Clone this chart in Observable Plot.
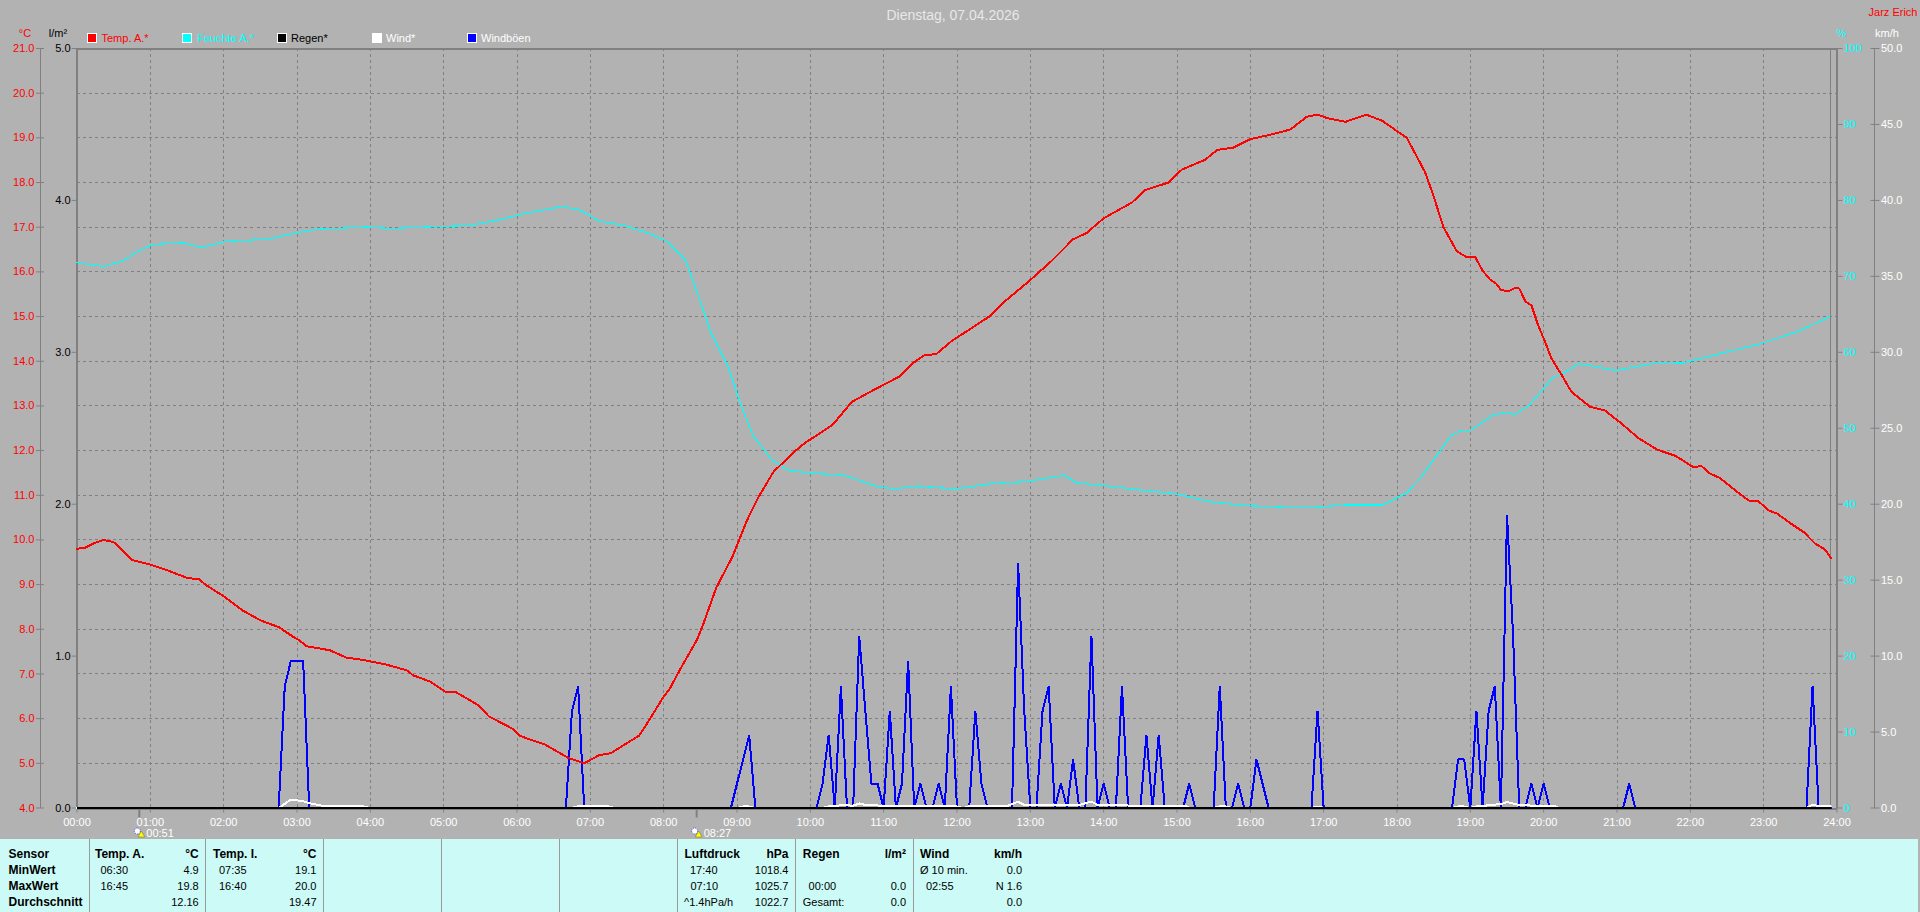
<!DOCTYPE html>
<html>
<head>
<meta charset="utf-8">
<title>Dienstag, 07.04.2026</title>
<script src="https://cdn.jsdelivr.net/npm/d3@7"></script>
<script src="https://cdn.jsdelivr.net/npm/@observablehq/plot@0.6"></script>
<style>
html,body{margin:0;padding:0;width:1920px;height:912px;overflow:hidden;background:#b2b2b2;font-family:"Liberation Sans",Arial,sans-serif;}
#chart{position:absolute;left:0;top:0;}
#chart svg{display:block;}
.o{position:absolute;white-space:nowrap;font-size:11px;line-height:12px;transform:translateY(-50%);}
.sw{position:absolute;width:8px;height:8px;border:1px solid #fff;top:33px;}
#panel{position:absolute;left:0;top:839px;width:1918px;height:73px;background:#ccfbf7;color:#000;font-size:11px;}
#panel .sep{position:absolute;top:0;height:73px;width:1px;background:#9a9a9a;}
#panel .c{position:absolute;white-space:nowrap;line-height:14px;transform:translateY(-50%);}
#panel .r{transform:translate(-100%,-50%);}
#panel .b{font-weight:700;font-size:12px;}
</style>
</head>
<body>
<div id="chart"></div>
<div id="overlay"></div>
<div id="panel"></div>
<script>
// ---------- chart values ----------
const tempTimes = ["00:00","00:07","00:15","00:22","00:30","00:35","00:45","01:00","01:15","01:30","01:40","01:45","02:00","02:15","02:30","02:45","02:57","03:02","03:08","03:27","03:40","03:57","04:13","04:30","04:35","04:49","05:02","05:10","05:19","05:29","05:37","05:56","06:02","06:13","06:23","06:30","06:42","06:55","07:07","07:17","07:28","07:40","07:48","07:59","08:05","08:13","08:27","08:33","08:43","08:56","09:08","09:18","09:30","09:48","09:55","10:18","10:34","10:50","11:13","11:23","11:33","11:43","11:56","12:13","12:28","12:40","12:58","13:18","13:35","13:46","14:00","14:23","14:34","14:53","15:04","15:23","15:33","15:46","16:00","16:18","16:33","16:46","16:55","17:03","17:18","17:35","17:48","18:08","18:23","18:30","18:38","18:49","18:57","19:04","19:10","19:16","19:21","19:25","19:31","19:36","19:40","19:45","19:50","19:55","20:03","20:06","20:15","20:20","20:23","20:38","20:50","21:03","21:18","21:33","21:48","22:03","22:09","22:15","22:24","22:39","22:48","22:56","23:04","23:11","23:21","23:33","23:42","23:50","23:55"];
const tempValues = [9.8,9.83,9.94,10,9.95,9.83,9.55,9.45,9.31,9.15,9.12,9,8.74,8.43,8.2,8.05,7.83,7.75,7.62,7.53,7.37,7.3,7.21,7.08,6.97,6.83,6.59,6.59,6.45,6.29,6.05,5.78,5.62,5.51,5.42,5.31,5.12,5,5.18,5.23,5.42,5.62,5.96,6.45,6.67,7.08,7.75,8.16,8.93,9.61,10.43,10.98,11.53,12,12.16,12.57,13.09,13.33,13.66,13.94,14.13,14.16,14.46,14.76,15.03,15.36,15.77,16.26,16.73,16.87,17.2,17.55,17.83,18,18.29,18.51,18.73,18.78,18.97,19.08,19.19,19.47,19.52,19.44,19.36,19.52,19.38,19,18.23,17.69,17,16.46,16.33,16.33,16.03,15.83,15.74,15.6,15.56,15.63,15.63,15.34,15.25,14.84,14.31,14.08,13.68,13.44,13.31,12.98,12.9,12.62,12.27,12.02,11.88,11.62,11.66,11.5,11.39,11.06,10.88,10.86,10.66,10.59,10.39,10.17,9.92,9.79,9.6];

const humidityTimes = ["00:00","00:22","00:37","00:50","01:02","01:27","01:42","02:02","02:37","03:02","03:17","03:57","04:17","04:47","05:22","05:47","06:07","06:37","06:52","07:07","07:27","07:47","08:03","08:18","08:28","08:38","08:53","09:03","09:13","09:28","09:43","10:08","10:28","10:53","11:08","11:28","11:58","12:28","12:58","13:28","13:38","13:58","14:28","14:58","15:28","15:58","16:28","16:53","17:18","17:48","18:08","18:18","18:36","18:44","18:52","19:00","19:10","19:18","19:30","19:36","19:48","19:59","20:06","20:19","20:29","20:59","21:29","21:54","22:19","22:59","23:29","23:54"];
const humidityValues = [71.8,71.3,72,73.3,74.2,74.4,73.8,74.6,74.9,75.8,76.2,76.5,76.3,76.5,76.7,77.5,78.3,79.2,78.7,77.3,76.7,75.7,74.6,72.1,67.6,62.8,58,53.1,49.1,45.9,44.4,44,43.8,42.4,42,42.4,42,42.7,43,43.8,42.8,42.5,41.9,41.4,40.3,39.8,39.6,39.6,39.9,39.9,41.5,43.2,47.2,49,49.7,49.7,50.8,51.7,52.1,51.8,53,55,56.5,57.5,58.5,57.6,58.5,58.6,59.6,61.2,62.8,64.7];

const rainTimes = ["00:00","23:55"];
const rainValues = [0,0];

const windTimes = ["00:00","02:45","02:55","03:00","03:05","03:10","03:20","03:55","04:00","06:45","06:50","07:15","07:20","09:00","09:05","09:10","09:15","10:10","10:15","10:20","10:25","10:35","10:40","10:45","11:00","12:00","12:05","12:10","12:20","12:25","12:40","12:50","12:55","13:40","13:50","13:55","14:30","15:00","15:08","15:10","15:30","15:35","15:40","15:45","16:50","16:55","17:00","18:45","18:50","18:55","19:00","19:05","19:10","19:15","19:25","19:30","19:35","19:40","20:05","20:10","20:12","23:35","23:40","23:45","23:55"];
const windValues = [0,0,.55,.5,.45,.32,.16,.1,0,0,.12,.1,0,0,.1,.1,0,0,.1,.1,.2,.15,.3,.2,.15,.1,0,.12,.12,.1,.1,.42,.2,.2,.42,.2,.15,.1,.1,0,0,.12,.1,0,0,.1,0,0,.1,.1,0,.1,.1,.2,.25,.4,.3,.2,.1,.1,0,0,.22,.12,.1];

const gustTimes = ["00:00","02:45","02:50","02:55","03:00","03:05","03:10","06:40","06:45","06:50","06:55","08:55","09:00","09:05","09:10","09:15","10:05","10:10","10:15","10:20","10:25","10:30","10:35","10:40","10:45","10:50","10:55","11:00","11:05","11:10","11:15","11:20","11:25","11:30","11:35","11:40","11:45","11:50","11:55","12:00","12:10","12:15","12:20","12:25","12:45","12:50","12:55","13:00","13:05","13:10","13:15","13:20","13:25","13:30","13:35","13:40","13:45","13:50","13:55","14:00","14:05","14:10","14:15","14:20","14:30","14:35","14:40","14:45","14:50","15:05","15:10","15:15","15:30","15:35","15:40","15:45","15:50","15:55","16:00","16:05","16:10","16:15","16:50","16:55","17:00","18:45","18:50","18:55","19:00","19:05","19:10","19:15","19:20","19:25","19:30","19:35","19:40","19:45","19:50","19:55","20:00","20:05","21:05","21:10","21:15","23:35","23:40","23:45","23:55"];
const gustValues = [0,0,8,9.7,9.7,9.7,0,0,6.4,8,0,0,1.6,3.2,4.8,0,0,1.6,4.8,0,8,0,0,11.3,6.4,1.6,1.6,0,6.4,0,1.6,9.7,0,1.6,0,0,1.6,0,8,0,0,6.4,1.6,0,0,16.1,6.4,0,0,6.4,8,0,1.6,0,3.2,0,0,11.3,0,1.6,0,0,8,0,0,4.8,0,4.8,0,0,1.6,0,0,8,0,0,1.6,0,0,3.2,1.6,0,0,6.4,0,0,3.2,3.2,0,6.4,0,6.4,8,0,19.3,11.3,0,0,1.6,0,1.6,0,0,1.6,0,0,8,0,0];

const hourTicks = d3.range(0, 25);
const tempTicks = d3.range(4, 22);
const rainTicks = [0,1,2,3,4,5];
const humidityTicks = d3.range(0, 101, 10);
const windTicks = d3.range(0, 51, 5);
const sunEvents = ["00:51","08:27"];
const dataEnd = "23:55";

const legendItems = [["Temp. A.*","#ff0000",87,101.5],["Feuchte A.*","#00ffff",182,197],["Regen*","#000000",277,291],["Wind*","#ffffff",372,386],["Windböen","#0000ff",467,481]];
const legendTextColors = ["#ff0000","#00ffff","#000000","#ffffff","#ffffff"];

const panelRows = [854,870,886,902];
const panelSeparators = [88.5,205,323,441,559,677,795,913];
const sensorLabels = ["Sensor","MinWert","MaxWert","Durchschnitt"];
const tempAHead = ["Temp. A.","°C"], tempATimes = ["06:30","16:45",""], tempAValues = ["4.9","19.8","12.16"];
const tempIHead = ["Temp. I.","°C"], tempITimes = ["07:35","16:40",""], tempIValues = ["19.1","20.0","19.47"];
const pressHead = ["Luftdruck","hPa"], pressTimes = ["17:40","07:10","^1.4hPa/h"], pressValues = ["1018.4","1025.7","1022.7"];
const regenHead = ["Regen","l/m²"], regenTimes = ["","00:00","Gesamt:"], regenValues = ["","0.0","0.0"];
const windHead = ["Wind","km/h"], windRowTimes = ["Ø 10 min.","02:55",""], windRowValues = ["0.0","N 1.6","0.0"];

// ---------- helpers ----------
const toHours = s => { const [h,m] = s.split(":").map(Number); return h + m/60; };
const series = (t,v) => t.map((s,i) => ({t:toHours(s), v:v[i]}));
const Y0 = 4, YSPAN = 17;
const rainToY = r => Y0 + YSPAN*r/5;
const humToY  = h => Y0 + YSPAN*h/100;
const windToY = w => Y0 + YSPAN*w/50;
const invRain = y => (y-Y0)*5/YSPAN, invHum = y => (y-Y0)*100/YSPAN, invWind = y => (y-Y0)*50/YSPAN;
const pad = h => String(h).padStart(2,"0") + ":00";
const GRID = "#808080", crisp = "crispEdges";

const lineOf = (data, conv, stroke, strokeWidth) => Plot.line(data, {x:"t", y:d=>conv(d.v), stroke, strokeWidth, shapeRendering:crisp, strokeLinejoin:"miter", curve:"linear"});

const plot = Plot.plot({
  width:1920, height:839,
  marginLeft:76.5, marginRight:83.5, marginTop:48, marginBottom:31.5,
  style:{background:"#b2b2b2", fontFamily:"'Liberation Sans',Arial,sans-serif", fontSize:"11px", overflow:"visible"},
  x:{domain:[0,24]},
  y:{domain:[4,21]},
  marks:[
    // grid
    Plot.ruleX(hourTicks.slice(1,-1), {stroke:GRID, strokeDasharray:"3 3", strokeWidth:1, shapeRendering:crisp}),
    Plot.ruleY(tempTicks.slice(1,-1), {stroke:GRID, strokeDasharray:"3 3", strokeWidth:1, shapeRendering:crisp}),
    // frame and side rails
    Plot.ruleX([toHours(dataEnd)], {stroke:GRID, strokeWidth:1, shapeRendering:crisp}),
    Plot.ruleX([0], {stroke:GRID, strokeWidth:2, shapeRendering:crisp}),
    Plot.ruleX([24], {stroke:GRID, strokeWidth:2, shapeRendering:crisp}),
    Plot.ruleY([21], {stroke:GRID, strokeWidth:2, shapeRendering:crisp}),
    Plot.ruleY([4], {stroke:GRID, strokeWidth:2, dy:1, shapeRendering:crisp}),
    Plot.ruleX([0], {dx:-36.5, stroke:GRID, strokeWidth:1, shapeRendering:crisp}),
    Plot.ruleX([24], {dx:37, stroke:GRID, strokeWidth:1, shapeRendering:crisp}),
    // axes
    Plot.axisY(tempTicks, {anchor:"left", dx:-32.5, tickSize:8, tickPadding:2, stroke:GRID, fill:"#ff0000", label:null, tickFormat:d=>d.toFixed(1)}),
    Plot.axisY(rainTicks.map(rainToY), {anchor:"left", tickSize:5, tickPadding:1.5, stroke:GRID, fill:"#000000", label:null, tickFormat:y=>invRain(y).toFixed(1)}),
    Plot.axisY(humidityTicks.map(humToY), {anchor:"right", tickSize:5, tickPadding:1.5, stroke:GRID, fill:"#00ffff", label:null, tickFormat:y=>String(Math.round(invHum(y)))}),
    Plot.axisY(windTicks.map(windToY), {anchor:"right", dx:33, tickSize:9, tickPadding:2, stroke:GRID, fill:"#ffffff", label:null, tickFormat:y=>invWind(y).toFixed(1)}),
    Plot.axisX(hourTicks, {anchor:"bottom", tickSize:5, tickPadding:5, stroke:GRID, fill:"#ffffff", label:null, tickFormat:pad}),
    // sun events
    Plot.axisX(sunEvents.map(toHours), {anchor:"bottom", tickSize:10, strokeWidth:2, stroke:GRID, text:null, label:null}),
    Plot.text(sunEvents, {x:toHours, text:d=>d, frameAnchor:"bottom", textAnchor:"start", dy:29, dx:7, fill:"#ffffff", fontSize:11}),
    Plot.dot(sunEvents.map(toHours), {x:d=>d, frameAnchor:"bottom", dy:23, dx:-2, r:3, fill:"#ffffff", stroke:"#2a2ad0", strokeWidth:.8, strokeDasharray:"1 1"}),
    Plot.dot(sunEvents.map(toHours), {x:d=>d, frameAnchor:"bottom", dy:27, dx:2, r:2.5, symbol:"triangle", fill:"#ffff00", stroke:"#555500", strokeWidth:.4}),
    // data
    lineOf(series(gustTimes,gustValues), windToY, "#0000ff", 2),
    lineOf(series(windTimes,windValues), windToY, "#ffffff", 2),
    lineOf(series(rainTimes,rainValues), rainToY, "#000000", 1.3),
    lineOf(series(humidityTimes,humidityValues), humToY, "#00ffff", 1.2),
    lineOf(series(tempTimes,tempValues), v=>v, "#ff0000", 2)
  ]
});
document.getElementById("chart").appendChild(plot);

// ---------- title, legend, units ----------
const overlay = document.getElementById("overlay");
const addText = (txt, x, y, color, size, anchorRight) => {
  const e = document.createElement("div");
  e.className = "o"; e.textContent = txt;
  e.style.left = x+"px"; e.style.top = y+"px"; e.style.color = color;
  if (size) e.style.fontSize = size+"px";
  if (anchorRight==="c") e.style.transform = "translate(-50%,-50%)";
  overlay.appendChild(e);
};
addText("Dienstag, 07.04.2026", 953, 15, "#e8e8e8", 14, "c");
addText("°C", 25, 33, "#ff0000", 11, "c");
addText("l/m²", 58, 33, "#000000", 11, "c");
addText("%", 1841.5, 33, "#00ffff", 11, "c");
addText("km/h", 1887, 33, "#ffffff", 11, "c");
addText("Jarz Erich", 1893, 12, "#ff0000", 11, "c");
legendItems.forEach((d,i) => {
  const s = document.createElement("div");
  s.className = "sw"; s.style.left = d[2]+"px"; s.style.background = d[1];
  overlay.appendChild(s);
  addText(d[0], d[3], 38, legendTextColors[i], 11);
});

// ---------- bottom panel ----------
const panel = document.getElementById("panel");
const top0 = 839;
panelSeparators.forEach(x => { const e=document.createElement("div"); e.className="sep"; e.style.left=x+"px"; panel.appendChild(e); });
const cell = (txt,x,y,cls) => {
  if (!txt) return;
  const e=document.createElement("div"); e.className="c "+(cls||""); e.textContent=txt;
  e.style.left=x+"px"; e.style.top=(y-top0)+"px"; panel.appendChild(e);
};
sensorLabels.forEach((t,i)=>cell(t,8.5,panelRows[i],"b"));
const block = (head,times,values,xHead,xTime,xRight,offsets) => {
  cell(head[0],xHead,panelRows[0],"b");
  cell(head[1],xRight,panelRows[0],"b r");
  times.forEach((t,i)=>cell(t,offsets&&offsets[i]!=null?offsets[i]:xTime,panelRows[i+1]));
  values.forEach((t,i)=>cell(t,xRight,panelRows[i+1],"r"));
};
block(tempAHead,tempATimes,tempAValues,95,100.5,198.7);
block(tempIHead,tempITimes,tempIValues,213,219,316.5);
block(pressHead,pressTimes,pressValues,684.5,690,788.5,[690,690.5,684]);
block(regenHead,regenTimes,regenValues,802.8,808.6,906,[null,808.6,802.8]);
block(windHead,windRowTimes,windRowValues,920,926,1022,[920,926,null]);
</script>
</body>
</html>
